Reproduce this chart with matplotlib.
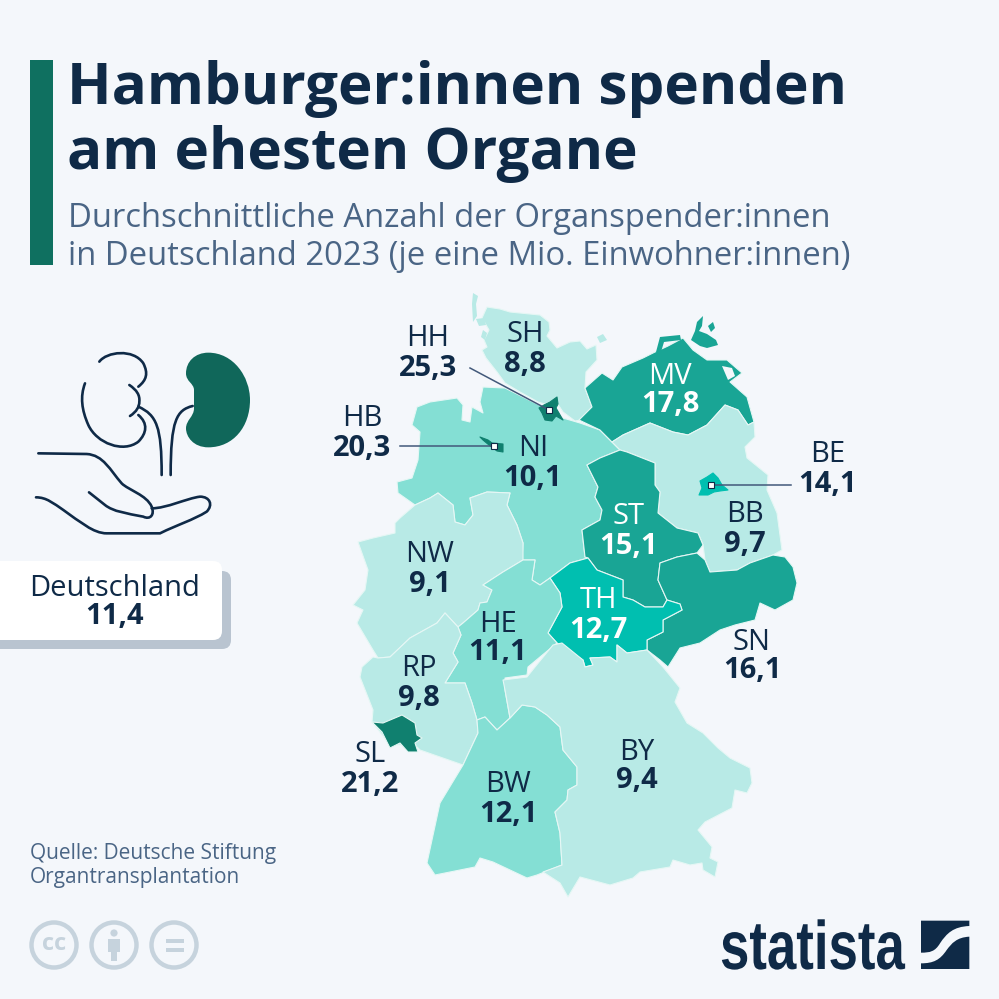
import matplotlib
matplotlib.use("Agg")
import matplotlib.pyplot as plt
import matplotlib.patheffects as pe
from matplotlib.colors import BoundaryNorm, ListedColormap
from matplotlib.patches import Circle, FancyBboxPatch, PathPatch, Polygon, Rectangle
from matplotlib.path import Path
from matplotlib.transforms import Affine2D

plt.rcParams["font.family"] = ["Open Sans", "DejaVu Sans"]

BG = "#f4f7fb"
NAVY = "#0f2a47"
SLATE = "#4a6585"
BAR = "#0f7060"
ICON_GREY = "#c6d3dd"

# ── Data ──────────────────────────────────────────────────────────────────────

states = ["SH", "NI", "MV", "BB", "ST", "SN", "TH", "NW", "HE", "RP", "BW", "BY", "SL", "HH", "HB", "BE"]
donors = [8.8, 10.1, 17.8, 9.7, 15.1, 16.1, 12.7, 9.1, 11.1, 9.8, 12.1, 9.4, 21.2, 25.3, 20.3, 14.1]
national = 11.4

bins = [0, 10, 12.5, 15, 20, 30]
bin_colors = ["#b8eae6", "#84dfd4", "#00bfb0", "#19a595", "#10806f"]

title_lines = ["Hamburger:innen spenden", "am ehesten Organe"]
subtitle_lines = ["Durchschnittliche Anzahl der Organspender:innen",
                  "in Deutschland 2023 (je eine Mio. Einwohner:innen)"]
source_lines = ["Quelle: Deutsche Stiftung", "Organtransplantation"]

# ── Map outlines and label anchors (image pixels) ─────────────────────────────

outlines = {
    "SH": [(487, 307), (500, 309), (510, 312), (540, 315), (549, 322), (550, 330), (547, 336), (557, 348),
           (570, 342), (580, 341), (587, 349), (596, 345), (597, 360), (586, 372), (585, 388), (592, 407),
           (581, 420), (575, 421), (563, 412), (555, 400), (545, 404), (538, 402), (520, 392), (505, 383),
           (497, 372), (486, 358), (482, 350), (487, 347), (484, 340), (489, 330), (482, 318)],
    "NI": [(483, 387), (480, 402), (483, 413), (472, 407), (470, 422), (462, 420), (463, 405), (457, 398),
           (430, 402), (417, 407), (412, 425), (420, 432), (418, 460), (412, 478), (397, 482), (398, 493),
           (415, 505), (430, 498), (438, 493), (453, 505), (455, 522), (465, 525), (473, 515), (470, 498),
           (487, 492), (510, 493), (507, 505), (517, 525), (523, 543), (522, 560), (535, 560), (532, 580),
           (540, 585), (550, 578), (570, 563), (588, 558), (585, 557), (582, 530), (600, 520), (602, 510),
           (595, 497), (598, 487), (587, 465), (600, 458), (620, 450), (612, 442), (600, 430), (580, 423),
           (563, 418), (545, 408), (525, 398), (505, 388)],
    "MV": [(579, 420), (592, 407), (585, 388), (602, 373), (613, 380), (622, 367), (643, 358), (655, 352),
           (668, 346), (683, 338), (693, 350), (707, 360), (727, 360), (742, 373), (730, 382), (747, 397),
           (754, 422), (748, 425), (738, 410), (725, 405), (707, 425), (688, 435), (673, 432), (650, 423),
           (623, 435), (612, 442), (600, 430)],
    "BB": [(612, 442), (623, 435), (650, 423), (673, 432), (688, 435), (707, 425), (725, 405), (738, 410),
           (748, 425), (754, 422), (755, 437), (745, 447), (747, 458), (768, 475), (767, 490), (777, 513),
           (782, 550), (773, 555), (750, 563), (737, 570), (710, 572), (705, 560), (703, 545), (698, 533),
           (677, 528), (658, 513), (660, 492), (655, 485), (655, 463), (627, 452), (620, 450)],
    "ST": [(620, 450), (627, 452), (655, 463), (655, 485), (660, 492), (658, 513), (677, 528), (698, 533),
           (703, 545), (697, 553), (677, 557), (660, 563), (658, 580), (667, 600), (663, 607), (645, 607),
           (633, 600), (623, 597), (623, 580), (597, 570), (588, 558), (585, 557), (582, 530), (600, 520),
           (602, 510), (595, 497), (598, 487), (587, 465), (600, 458)],
    "SN": [(660, 563), (677, 557), (697, 553), (705, 560), (710, 572), (737, 570), (750, 563), (773, 555),
           (785, 557), (793, 567), (797, 583), (793, 600), (775, 610), (760, 603), (755, 620), (735, 625),
           (720, 630), (700, 643), (680, 648), (668, 667), (660, 660), (647, 650), (647, 640), (663, 632),
           (663, 620), (682, 610), (680, 604), (667, 600), (658, 580)],
    "TH": [(550, 578), (570, 563), (588, 558), (597, 570), (623, 580), (623, 597), (633, 600), (645, 607),
           (663, 607), (667, 600), (680, 604), (682, 610), (663, 620), (663, 632), (647, 640), (647, 650),
           (627, 653), (617, 645), (617, 662), (610, 657), (590, 658), (593, 665), (585, 667), (583, 660),
           (557, 643), (548, 633), (562, 607), (560, 593)],
    "NW": [(358, 542), (373, 538), (395, 533), (395, 523), (400, 518), (415, 505), (430, 498), (438, 493),
           (453, 505), (455, 522), (465, 525), (473, 515), (470, 498), (487, 492), (510, 493), (507, 505),
           (517, 525), (523, 543), (523, 560), (503, 572), (483, 585), (492, 590), (487, 602), (480, 603),
           (478, 610), (463, 623), (458, 627), (445, 613), (437, 623), (410, 638), (390, 657), (378, 658),
           (373, 650), (357, 623), (363, 610), (353, 605), (365, 590), (368, 570)],
    "HE": [(523, 560), (535, 560), (532, 580), (540, 585), (550, 578), (560, 593), (562, 607), (548, 633),
           (557, 643), (540, 657), (528, 667), (527, 675), (505, 678), (505, 690), (510, 718), (497, 730),
           (485, 717), (477, 720), (472, 703), (465, 683), (445, 683), (458, 662), (453, 653), (461, 635),
           (458, 627), (463, 623), (478, 610), (480, 603), (487, 602), (492, 590), (483, 585), (503, 572)],
    "RP": [(445, 613), (458, 627), (461, 635), (453, 653), (458, 662), (445, 683), (465, 683), (472, 703),
           (477, 720), (478, 733), (470, 750), (463, 765), (440, 757), (420, 750), (415, 745), (390, 745),
           (372, 722), (373, 710), (360, 677), (362, 667), (373, 657), (378, 658), (390, 657), (410, 638),
           (437, 623)],
    "BW": [(463, 765), (478, 733), (477, 720), (485, 717), (497, 730), (510, 718), (522, 705), (535, 707),
           (547, 715), (560, 727), (563, 750), (577, 767), (577, 785), (568, 790), (567, 800), (555, 812),
           (560, 833), (562, 865), (537, 875), (527, 878), (493, 862), (480, 858), (475, 867), (435, 875),
           (427, 863), (440, 803)],
    "BY": [(503, 680), (527, 677), (535, 667), (553, 645), (562, 643), (583, 660), (585, 667), (593, 665),
           (590, 658), (610, 657), (617, 662), (617, 645), (627, 653), (647, 650), (663, 667), (680, 688),
           (675, 702), (687, 723), (703, 733), (718, 748), (730, 758), (750, 768), (752, 783), (747, 793),
           (735, 790), (732, 808), (705, 822), (698, 830), (712, 847), (710, 858), (718, 862), (715, 877),
           (703, 870), (702, 863), (690, 865), (673, 860), (670, 867), (640, 872), (633, 878), (610, 885),
           (580, 877), (568, 897), (560, 883), (543, 872), (562, 865), (560, 833), (555, 812), (567, 800),
           (568, 790), (577, 785), (577, 767), (563, 750), (560, 727), (547, 715), (535, 707), (522, 705),
           (510, 718), (505, 690)],
    "SL": [(372, 722), (383, 723), (402, 715), (415, 723), (417, 735), (422, 738), (415, 743), (418, 752),
           (408, 752), (400, 743), (390, 748), (382, 732)],
    "HH": [(539, 408), (544, 405), (550, 402), (557, 397), (558, 404), (556, 408), (563, 420), (556, 416),
           (552, 421), (545, 420), (542, 413)],
    "HB": [(480, 437), (488, 440), (492, 443), (503, 444), (503, 452), (497, 451), (489, 445), (483, 440)],
    "BE": [(700, 481), (707, 477), (713, 473), (718, 478), (722, 485), (728, 490), (720, 491), (714, 492),
           (708, 495), (699, 495), (702, 488)],
}

islands = {
    "SH": [[(473, 293), (478, 296), (476, 304), (477, 316), (473, 322), (472, 304)],
           [(476, 319), (484, 318), (486, 325), (479, 326)],
           [(483, 330), (487, 333), (485, 340), (481, 337)],
           [(597, 337), (603, 334), (607, 340), (600, 343)]],
    "MV": [[(695, 331), (697, 322), (703, 316), (702, 326), (699, 331), (707, 334), (716, 340), (718, 345),
            (707, 348), (700, 346), (691, 340)],
           [(708, 326), (713, 322), (715, 328), (711, 332)],
           [(656, 352), (660, 337), (680, 335), (681, 340), (664, 342), (661, 352)]],
}
lagoon = [(722, 366), (732, 368), (735, 376), (728, 380), (725, 373)]

code_xy = {"HH": (428, 339), "SH": (525, 335), "MV": (670, 376), "HB": (362, 419), "NI": (533, 449),
           "BE": (828, 455), "ST": (629, 517), "BB": (745, 515), "NW": (430, 555), "TH": (598, 601),
           "HE": (498, 624), "SN": (752, 642), "RP": (419, 669), "SL": (370, 755), "BY": (637, 752),
           "BW": (508, 785)}
white_labels = ["MV", "ST", "TH"]

leaders = [((470, 368), (547, 409)), ((400, 446), (492, 446)), ((713, 485), (791, 485))]
markers = [(549, 410), (494, 446), (711, 485)]


class StretchY(pe.AbstractPathEffect):
    # stretch glyphs upward from the baseline, the logo face is a condensed one
    def __init__(self, baseline, factor):
        super().__init__()
        self.baseline = baseline
        self.factor = factor

    def draw_path(self, renderer, gc, tpath, affine, rgbFace=None):
        stretch = Affine2D().translate(0, -self.baseline).scale(1, self.factor).translate(0, self.baseline)
        renderer.draw_path(gc, tpath, affine + stretch, rgbFace)


# ── Figure ────────────────────────────────────────────────────────────────────

fig = plt.figure(figsize=(9.99, 9.99), dpi=100, facecolor=BG)
ax = fig.add_axes([0, 0, 1, 1])
ax.set_xlim(0, 999)
ax.set_ylim(999, 0)
ax.axis("off")

ax.add_patch(Rectangle((30, 60), 23, 205, color=BAR, lw=0))
for y, line in zip([104, 169], title_lines):
    ax.text(67, y, line, fontsize=42, fontweight="bold", color=NAVY, va="baseline", ha="left")
for y, line in zip([227, 265], subtitle_lines):
    ax.text(68, y, line, fontsize=23.6, color=SLATE, va="baseline", ha="left")

# map
cmap = ListedColormap(bin_colors)
norm = BoundaryNorm(bins, cmap.N)
value_of = dict(zip(states, donors))
for code in states:
    color = cmap(norm(value_of[code]))
    edge = "#e6f7f5" if code not in ("HH", "HB", "BE") else color
    ax.add_patch(Polygon(outlines[code], closed=True, facecolor=color, edgecolor=edge, lw=0.8, joinstyle="round"))
    for part in islands.get(code, []):
        ax.add_patch(Polygon(part, closed=True, facecolor=color, edgecolor="none"))
ax.add_patch(Polygon(lagoon, closed=True, facecolor=BG, edgecolor="none"))

for (x0, y0), (x1, y1) in leaders:
    ax.plot([x0, x1], [y0, y1], color="#42597a", lw=1.1, zorder=4)
for x, y in markers:
    ax.add_patch(Rectangle((x - 3, y - 3), 6, 6, facecolor="white", edgecolor=NAVY, lw=0.8, zorder=5))

for code, value in zip(states, donors):
    x, y = code_xy[code]
    color = "white" if code in white_labels else NAVY
    ax.text(x, y, code, fontsize=21, color=color, ha="center", va="center", zorder=6)
    ax.text(x, y + 29, f"{value:.1f}".replace(".", ","), fontsize=21, fontweight="bold", color=color,
            ha="center", va="center", zorder=6)

# national box
ax.add_patch(FancyBboxPatch((-30, 571), 261, 78, boxstyle="round,pad=0,rounding_size=9", facecolor="#b9c4d0", lw=0))
ax.add_patch(FancyBboxPatch((-30, 561), 252, 79, boxstyle="round,pad=0,rounding_size=9", facecolor="white", lw=0))
ax.text(115, 588, "Deutschland", fontsize=21, color=NAVY, ha="center", va="center")
ax.text(115, 617, f"{national:.1f}".replace(".", ","), fontsize=21, fontweight="bold", color=NAVY,
        ha="center", va="center")

# kidney + hand icon, drawn in zoomed crop coordinates (3x, y offset 340)
def icon_path(start, *segs):
    verts = [start]
    codes = [Path.MOVETO]
    for seg in segs:
        verts.extend(seg)
        codes.extend([Path.LINETO] if len(seg) == 1 else [Path.CURVE4] * 3)
    return Path([(x / 3, 340 + y / 3) for x, y in verts], codes)

solid_kidney = icon_path((625, 38), [(700, 38), (750, 110), (750, 180)], [(750, 260), (700, 322), (625, 322)],
                         [(580, 322), (558, 290), (558, 265)], [(558, 240), (582, 230), (582, 205)], [(582, 150)],
                         [(582, 130), (558, 125), (558, 100)], [(558, 65), (585, 38), (625, 38)])
ax.add_patch(PathPatch(solid_kidney, facecolor="#10675a", lw=0))

icon_lines = [
    icon_path((298, 65), [(320, 35), (400, 25), (430, 70)], [(445, 100), (440, 120), (415, 140)]),
    icon_path((388, 135), [(410, 150), (420, 165), (418, 185)], [(418, 200), (410, 215), (390, 228)]),
    icon_path((415, 225), [(445, 250), (440, 280), (415, 305)], [(370, 340), (290, 310), (265, 255)],
              [(245, 210), (240, 170), (255, 130)]),
    icon_path((415, 200), [(470, 225), (485, 260), (485, 405)]),
    icon_path((578, 198), [(530, 210), (512, 240), (512, 405)]),
    icon_path((115, 340), [(260, 342)], [(310, 345), (330, 390), (365, 430)], [(385, 450), (440, 465), (455, 500)],
              [(465, 525), (450, 540), (430, 530)], [(380, 520), (340, 515), (315, 495)], [(267, 457)]),
    icon_path((455, 505), [(500, 505), (560, 475), (600, 470)], [(630, 470), (640, 495), (620, 515)],
              [(580, 540), (530, 555), (480, 580)], [(320, 580)], [(280, 580), (240, 545), (190, 510)],
              [(160, 490), (140, 472), (108, 472)]),
]
for p in icon_lines:
    ax.add_patch(PathPatch(p, facecolor="none", edgecolor=NAVY, lw=1.9, capstyle="round"))

# source
for y, line in zip([854, 878], source_lines):
    ax.text(30, y, line, fontsize=15, color=SLATE, va="center", ha="left")

# licence icons
for x in [54, 114, 174]:
    ax.add_patch(Circle((x, 945), 22.5, facecolor="none", edgecolor=ICON_GREY, lw=3.2))
ax.text(54, 944, "cc", fontsize=17, fontweight="bold", color=ICON_GREY, ha="center", va="center")
ax.add_patch(Circle((114, 933), 3.6, color=ICON_GREY, lw=0))
ax.add_patch(Rectangle((108, 939), 12, 13, color=ICON_GREY, lw=0))
ax.add_patch(Rectangle((111, 950), 6, 11, color=ICON_GREY, lw=0))
ax.add_patch(Rectangle((166, 939), 18, 4, color=ICON_GREY, lw=0))
ax.add_patch(Rectangle((166, 948), 18, 4, color=ICON_GREY, lw=0))

# statista logo
ax.text(720, 969, "statista", fontsize=38, fontweight="bold", color=NAVY, family="Liberation Sans",
        ha="left", va="baseline", path_effects=[StretchY(30, 1.3)])

def logo_path(start, *segs):
    verts = [start]
    codes = [Path.MOVETO]
    for seg in segs:
        verts.extend(seg)
        codes.extend([Path.LINETO] if len(seg) == 1 else [Path.CURVE4] * 3)
    return Path([(700 + x / 3, 900 + y / 3) for x, y in verts], codes)

logo_top = logo_path((663, 62), [(808, 62)], [(808, 78)], [(760, 80), (740, 100), (720, 130)],
                     [(705, 155), (690, 158), (663, 158)])
logo_bottom = logo_path((808, 110), [(770, 112), (755, 130), (740, 150)], [(720, 180), (700, 190), (663, 190)],
                        [(663, 207)], [(808, 207)])
for p in [logo_top, logo_bottom]:
    ax.add_patch(PathPatch(p, facecolor=NAVY, lw=0))

plt.savefig("out.png", dpi=100, facecolor=BG)
plt.close()
